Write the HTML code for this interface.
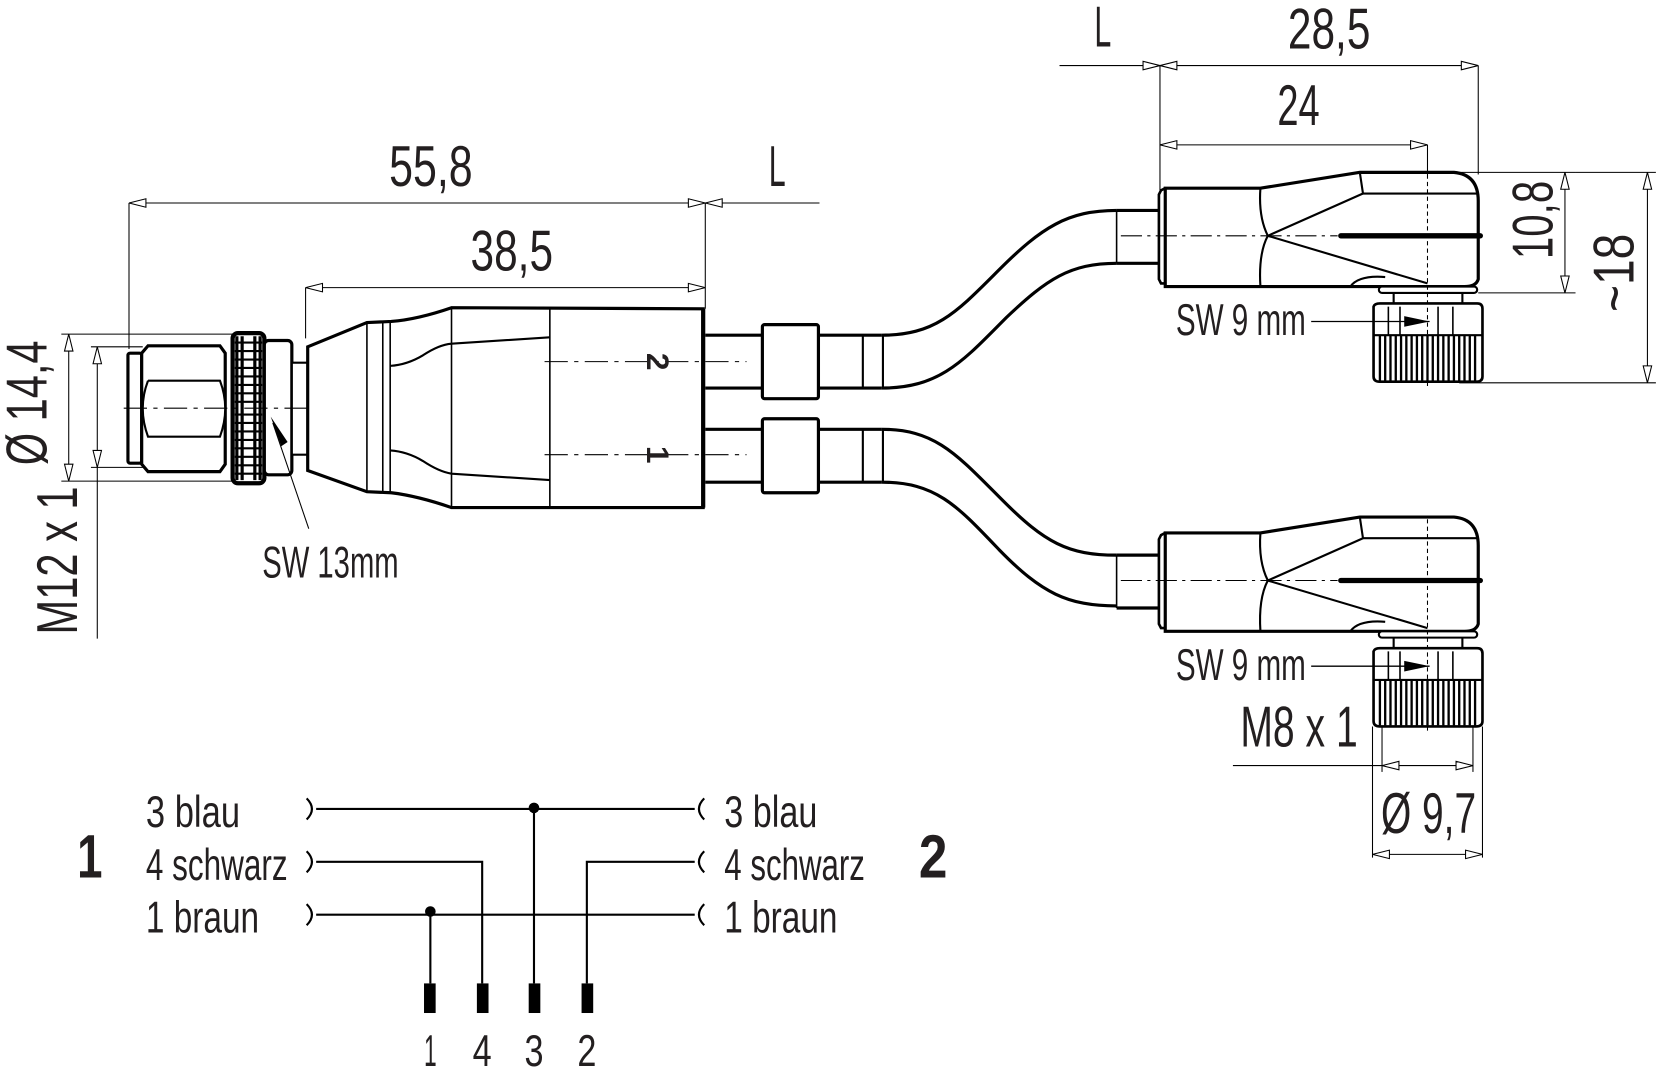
<!DOCTYPE html>
<html><head><meta charset="utf-8"><style>
html,body{margin:0;padding:0;background:#fff;}
svg{display:block;}
text{font-family:"Liberation Sans",sans-serif;fill:#231f20;}
</style></head><body>
<svg width="1658" height="1068" viewBox="0 0 1568 1010" preserveAspectRatio="none" xmlns="http://www.w3.org/2000/svg">
<defs>
<g id="conn">
  <line x1="1056" y1="199" x2="1056" y2="249" stroke="#000" stroke-width="1.5"/>
  <line x1="1056" y1="199" x2="1097" y2="199" stroke="#000" stroke-width="3"/>
  <line x1="1056" y1="249" x2="1097" y2="249" stroke="#000" stroke-width="3"/>
  <path d="M1102,178 L1098,180 L1096,184 L1096,264 L1098,268 L1102,268" fill="none" stroke="#000" stroke-width="2.5"/>
  <path d="M1102,178 L1192,178 L1286,163 L1375,163 Q1398,165 1398,190 L1398,264 Q1396,271 1385,271 L1102,271 Z" fill="none" stroke="#000" stroke-width="3"/>
  <path d="M1192,178 Q1190,205 1199,223 Q1190,240 1192,271" fill="none" stroke="#000" stroke-width="2"/>
  <path d="M1286,163 L1289,183 L1398,183" fill="none" stroke="#000" stroke-width="2"/>
  <line x1="1289" y1="183" x2="1199" y2="223" stroke="#000" stroke-width="2"/>
  <line x1="1199" y1="223" x2="1350" y2="268" stroke="#000" stroke-width="2"/>
  <path d="M1277,271 Q1285,260 1310,262" fill="none" stroke="#000" stroke-width="2"/>
  <line x1="1268" y1="223" x2="1400" y2="223" stroke="#000" stroke-width="5" stroke-linecap="round"/>
  <line x1="1060" y1="223" x2="1265" y2="223" stroke="#000" stroke-width="1" stroke-dasharray="20,5,3,5"/>
  <rect x="1304" y="271" width="93" height="6" rx="3" fill="#fff" stroke="#000" stroke-width="2"/>
  <line x1="1318" y1="277" x2="1318" y2="287" stroke="#000" stroke-width="2"/>
  <line x1="1383" y1="277" x2="1383" y2="287" stroke="#000" stroke-width="2"/>
  <path d="M1299,290 Q1300,287 1305,287 L1397,287 Q1402,287 1402,292 L1402,356 Q1402,361 1396,361 L1305,361 Q1299,361 1299,356 Z" fill="#fff" stroke="#000" stroke-width="2.5"/>
  <line x1="1299" y1="317" x2="1402" y2="317" stroke="#000" stroke-width="2"/>
  <line x1="1313" y1="290" x2="1313" y2="317" stroke="#000" stroke-width="1.5"/>
  <line x1="1324" y1="290" x2="1324" y2="317" stroke="#000" stroke-width="1.5"/>
  <line x1="1360" y1="290" x2="1360" y2="317" stroke="#000" stroke-width="1.5"/>
  <line x1="1374" y1="290" x2="1374" y2="317" stroke="#000" stroke-width="1.5"/>
  <g stroke="#000" stroke-width="2.2">
    <line x1="1305" y1="317" x2="1305" y2="360"/><line x1="1310" y1="317" x2="1310" y2="360"/><line x1="1315" y1="317" x2="1315" y2="360"/><line x1="1320" y1="317" x2="1320" y2="360"/><line x1="1325" y1="317" x2="1325" y2="360"/><line x1="1330" y1="317" x2="1330" y2="360"/><line x1="1335" y1="317" x2="1335" y2="360"/><line x1="1340" y1="317" x2="1340" y2="360"/><line x1="1345" y1="317" x2="1345" y2="360"/><line x1="1350" y1="317" x2="1350" y2="360"/><line x1="1355" y1="317" x2="1355" y2="360"/><line x1="1360" y1="317" x2="1360" y2="360"/><line x1="1365" y1="317" x2="1365" y2="360"/><line x1="1370" y1="317" x2="1370" y2="360"/><line x1="1375" y1="317" x2="1375" y2="360"/><line x1="1380" y1="317" x2="1380" y2="360"/><line x1="1385" y1="317" x2="1385" y2="360"/><line x1="1390" y1="317" x2="1390" y2="360"/><line x1="1395" y1="317" x2="1395" y2="360"/>
  </g>
  <line x1="1350" y1="165" x2="1350" y2="368" stroke="#000" stroke-width="1" stroke-dasharray="4,3"/>
  <line x1="1240" y1="304" x2="1352" y2="304" stroke="#000" stroke-width="1.2"/>
  <polygon points="1352,304 1328,299 1328,309" fill="#000"/>
</g>
</defs>

<g stroke="#000" stroke-width="1" fill="#fff">
  <line x1="122" y1="192" x2="775" y2="192"/>
  <line x1="289" y1="272" x2="667" y2="272"/>
  <line x1="122" y1="192" x2="122" y2="330"/>
  <line x1="289" y1="272" x2="289" y2="320"/>
  <line x1="667" y1="192" x2="667" y2="292"/>
  <polygon points="122,192 138,188 138,196"/><polygon points="667,192 651,188 651,196"/><polygon points="667,192 683,188 683,196"/>
  <polygon points="289,272 305,268 305,276"/><polygon points="667,272 651,268 651,276"/>

  <line x1="1002" y1="62" x2="1398" y2="62"/>
  <line x1="1097" y1="137" x2="1350" y2="137"/>
  <line x1="1350" y1="137" x2="1350" y2="165"/>
  <line x1="1097" y1="62" x2="1097" y2="180"/>
  <line x1="1398" y1="62" x2="1398" y2="165"/>
  <polygon points="1097,62 1081,58 1081,66"/><polygon points="1097,62 1113,58 1113,66"/><polygon points="1398,62 1382,58 1382,66"/>
  <polygon points="1097,137 1113,133 1113,141"/><polygon points="1350,137 1334,133 1334,141"/>

  <line x1="1350" y1="163" x2="1490" y2="163"/>
  <line x1="1398" y1="277" x2="1490" y2="277"/>
  <line x1="1480" y1="163" x2="1480" y2="277"/>
  <polygon points="1480,163 1476,179 1484,179"/><polygon points="1480,277 1476,261 1484,261"/>
  <line x1="1490" y1="163" x2="1566" y2="163"/>
  <line x1="1380" y1="362" x2="1566" y2="362"/>
  <line x1="1558" y1="163" x2="1558" y2="362"/>
  <polygon points="1558,163 1554,179 1562,179"/><polygon points="1558,362 1554,346 1562,346"/>

  <line x1="58" y1="316" x2="235" y2="316"/>
  <line x1="58" y1="455" x2="235" y2="455"/>
  <line x1="65" y1="316" x2="65" y2="455"/>
  <polygon points="65,316 61,332 69,332"/><polygon points="65,455 61,439 69,439"/>
  <line x1="86" y1="328" x2="135" y2="328"/>
  <line x1="86" y1="442" x2="135" y2="442"/>
  <line x1="92" y1="328" x2="92" y2="604"/>
  <polygon points="92,328 88,344 96,344"/><polygon points="92,442 88,426 96,426"/>

  <line x1="1166" y1="724" x2="1393" y2="724"/>
  <line x1="1307" y1="687" x2="1307" y2="730"/>
  <line x1="1393" y1="687" x2="1393" y2="730"/>
  <polygon points="1307,724 1323,720 1323,728"/><polygon points="1393,724 1377,720 1377,728"/>
  <line x1="1298" y1="687" x2="1298" y2="811"/>
  <line x1="1402" y1="687" x2="1402" y2="811"/>
  <line x1="1298" y1="808" x2="1402" y2="808"/>
  <polygon points="1298,808 1314,804 1314,812"/><polygon points="1402,808 1386,804 1386,812"/>
</g>

<g fill="#fff" stroke="#000" stroke-width="3">
  <rect x="121" y="334" width="13" height="104" rx="2"/>
  <path d="M134,334 L140,327 L208,327 L213,334 L213,439 L208,446 L140,446 L134,439 Z"/>
  <path d="M140,360 L208,360 Q218,386 208,413 L140,413 Q130,386 140,360" stroke-width="2"/>
  <rect x="220" y="315" width="30" height="142" rx="5" fill="#fff" stroke-width="4"/>
  <rect x="250" y="322" width="26" height="127" rx="4"/>
  <rect x="276" y="343" width="15" height="87" stroke-width="2"/>
</g>
<g stroke="#000" stroke-width="3">
  <line x1="224" y1="318" x2="224" y2="454"/><line x1="229" y1="318" x2="229" y2="454"/>
  <line x1="241" y1="318" x2="241" y2="454"/><line x1="246" y1="318" x2="246" y2="454"/>
</g>
<g stroke="#000" stroke-width="2">
  <line x1="222" y1="324" x2="248" y2="324"/><line x1="222" y1="332" x2="248" y2="332"/><line x1="222" y1="340" x2="248" y2="340"/><line x1="222" y1="348" x2="248" y2="348"/><line x1="222" y1="356" x2="248" y2="356"/><line x1="222" y1="364" x2="248" y2="364"/><line x1="222" y1="372" x2="248" y2="372"/><line x1="222" y1="380" x2="248" y2="380"/><line x1="222" y1="392" x2="248" y2="392"/><line x1="222" y1="400" x2="248" y2="400"/><line x1="222" y1="408" x2="248" y2="408"/><line x1="222" y1="416" x2="248" y2="416"/><line x1="222" y1="424" x2="248" y2="424"/><line x1="222" y1="432" x2="248" y2="432"/><line x1="222" y1="440" x2="248" y2="440"/><line x1="222" y1="448" x2="248" y2="448"/>
</g>
<line x1="117" y1="386" x2="455" y2="386" stroke="#000" stroke-width="1" stroke-dasharray="22,6,4,6"/>
<line x1="258" y1="400" x2="292" y2="500" stroke="#000" stroke-width="1"/>
<polygon points="256,394 266,422 272,418" fill="#000"/>

<path d="M291,328 L347,305 L370,304 Q395,302 427,291 L665,292 L665,480 L427,480 Q395,469 370,466 L347,465 L291,445 Z" fill="#fff" stroke="#000" stroke-width="3"/>
<line x1="665" y1="292" x2="665" y2="480" stroke="#000" stroke-width="4"/>
<g stroke="#000" stroke-width="1.5" fill="none">
  <line x1="347" y1="305" x2="347" y2="465"/>
  <line x1="362" y1="304" x2="362" y2="466"/>
  <line x1="369" y1="304" x2="369" y2="466"/>
  <line x1="427" y1="291" x2="427" y2="480"/>
  <line x1="520" y1="291" x2="520" y2="480"/>
  <path d="M369,346 Q385,345 400,336 Q415,326 427,325 L520,319" stroke-width="2"/>
  <path d="M369,426 Q385,427 400,436 Q415,446 427,448 L520,454" stroke-width="2"/>
</g>
<line x1="515" y1="342" x2="706" y2="342" stroke="#000" stroke-width="1" stroke-dasharray="22,6,4,6"/>
<line x1="515" y1="430" x2="706" y2="430" stroke="#000" stroke-width="1" stroke-dasharray="22,6,4,6"/>
<text transform="translate(612,342) rotate(90)" font-size="30" font-weight="bold" text-anchor="middle" dy="0">2</text>
<text transform="translate(612,430) rotate(90)" font-size="30" font-weight="bold" text-anchor="middle">1</text>

<g fill="none" stroke="#000" stroke-width="3">
  <line x1="667" y1="317" x2="834" y2="317"/><line x1="667" y1="367" x2="834" y2="367"/>
  <line x1="667" y1="406" x2="834" y2="406"/><line x1="667" y1="456" x2="834" y2="456"/>
  <rect x="721" y="307" width="53" height="70" rx="2" fill="#fff"/>
  <rect x="721" y="396" width="53" height="70" rx="2" fill="#fff"/>
  <line x1="816" y1="317" x2="816" y2="367" stroke-width="2"/><line x1="835" y1="317" x2="835" y2="367" stroke-width="2"/>
  <line x1="816" y1="406" x2="816" y2="456" stroke-width="2"/><line x1="835" y1="406" x2="835" y2="456" stroke-width="2"/>
  <path d="M834,317 C885,317 905,295 945,255 C985,215 1010,199 1056,199"/>
  <path d="M834,367 C890,367 912,340 952,300 C990,264 1012,249 1056,249"/>
  <path d="M834,406 C885,406 905,430 948,473 C988,513 1010,525 1056,525"/>
  <path d="M834,456 C885,456 905,478 945,520 C985,561 1010,573 1056,573"/>
</g>

<use href="#conn"/>
<use href="#conn" transform="translate(0,326)"/>

<g font-size="54">
  <text x="368" y="176" textLength="79" lengthAdjust="spacingAndGlyphs">55,8</text>
  <text x="727" y="176" textLength="16" lengthAdjust="spacingAndGlyphs">L</text>
  <text x="445" y="256" textLength="78" lengthAdjust="spacingAndGlyphs">38,5</text>
  <text x="1035" y="44" textLength="16" lengthAdjust="spacingAndGlyphs">L</text>
  <text x="1218" y="46" textLength="78" lengthAdjust="spacingAndGlyphs">28,5</text>
  <text x="1208" y="118" textLength="40" lengthAdjust="spacingAndGlyphs">24</text>
  <text transform="translate(1468,245) rotate(-90)" textLength="74" lengthAdjust="spacingAndGlyphs">10,8</text>
  <text transform="translate(1545,295) rotate(-90)" textLength="74" lengthAdjust="spacingAndGlyphs">~18</text>
  <text transform="translate(44,440) rotate(-90)" textLength="118" lengthAdjust="spacingAndGlyphs">Ø 14,4</text>
  <text transform="translate(73,600) rotate(-90)" textLength="140" lengthAdjust="spacingAndGlyphs">M12 x 1</text>
  <text x="1173" y="706" textLength="111" lengthAdjust="spacingAndGlyphs">M8 x 1</text>
  <text x="1306" y="788" textLength="90" lengthAdjust="spacingAndGlyphs">Ø 9,7</text>
</g>
<g font-size="42">
  <text x="248" y="546" textLength="129" lengthAdjust="spacingAndGlyphs">SW 13mm</text>
  <text x="1112" y="317" textLength="123" lengthAdjust="spacingAndGlyphs">SW 9 mm</text>
  <text x="1112" y="643" textLength="123" lengthAdjust="spacingAndGlyphs">SW 9 mm</text>
</g>

<g font-size="42">
  <text x="138" y="782" textLength="89" lengthAdjust="spacingAndGlyphs">3 blau</text>
  <text x="138" y="832" textLength="134" lengthAdjust="spacingAndGlyphs">4 schwarz</text>
  <text x="138" y="882" textLength="107" lengthAdjust="spacingAndGlyphs">1 braun</text>
  <text x="685" y="782" textLength="88" lengthAdjust="spacingAndGlyphs">3 blau</text>
  <text x="685" y="832" textLength="133" lengthAdjust="spacingAndGlyphs">4 schwarz</text>
  <text x="685" y="882" textLength="107" lengthAdjust="spacingAndGlyphs">1 braun</text>
  <text x="407" y="1008" text-anchor="middle" textLength="12" lengthAdjust="spacingAndGlyphs">1</text>
  <text x="456" y="1008" text-anchor="middle" textLength="18" lengthAdjust="spacingAndGlyphs">4</text>
  <text x="505" y="1008" text-anchor="middle" textLength="18" lengthAdjust="spacingAndGlyphs">3</text>
  <text x="555" y="1008" text-anchor="middle" textLength="18" lengthAdjust="spacingAndGlyphs">2</text>
</g>
<text x="73" y="830" font-size="58" font-weight="bold" textLength="24" lengthAdjust="spacingAndGlyphs">1</text>
<text x="869" y="830" font-size="58" font-weight="bold" textLength="27" lengthAdjust="spacingAndGlyphs">2</text>
<g fill="none" stroke="#000" stroke-width="2">
  <path d="M290,755 Q300,765 290,775"/><path d="M290,805 Q300,815 290,825"/><path d="M290,855 Q300,865 290,875"/>
  <path d="M666,755 Q656,765 666,775"/><path d="M666,805 Q656,815 666,825"/><path d="M666,855 Q656,865 666,875"/>
  <line x1="299" y1="765" x2="657" y2="765"/>
  <polyline points="299,815 456,815 456,930"/>
  <polyline points="657,815 555,815 555,930"/>
  <line x1="299" y1="865" x2="657" y2="865"/>
  <line x1="407" y1="865" x2="407" y2="930"/>
  <line x1="505" y1="765" x2="505" y2="930"/>
</g>
<circle cx="407" cy="862" r="5" fill="#000"/>
<circle cx="505" cy="764" r="5" fill="#000"/>
<g fill="#000">
  <rect x="401" y="930" width="11" height="28"/>
  <rect x="451" y="930" width="11" height="28"/>
  <rect x="500" y="930" width="11" height="28"/>
  <rect x="550" y="930" width="11" height="28"/>
</g>
</svg>
</body></html>
